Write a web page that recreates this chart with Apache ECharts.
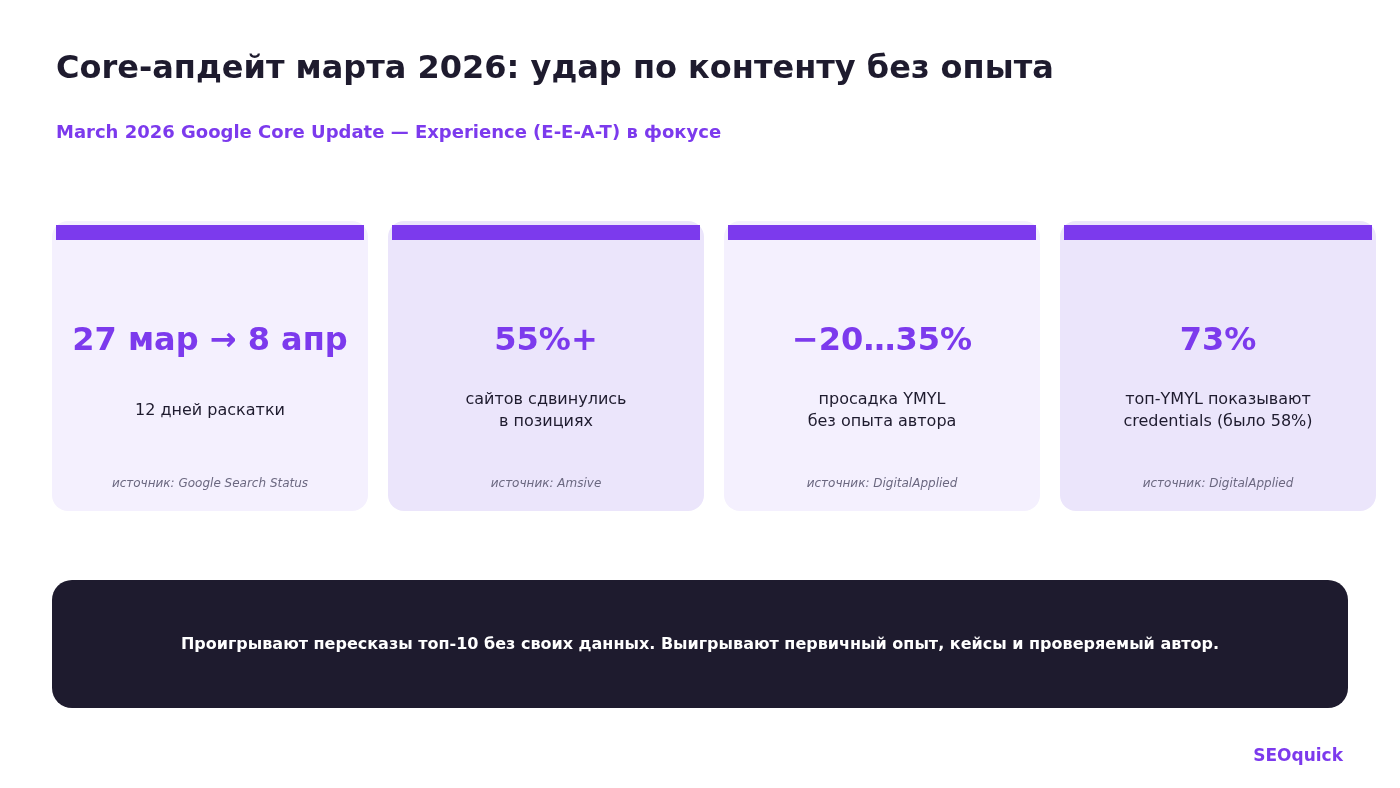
<!DOCTYPE html>
<html><head><meta charset="utf-8">
<script src="https://cdn.jsdelivr.net/npm/echarts@6/dist/echarts.min.js"></script>
<style>html,body{margin:0;padding:0;background:#fff}#c{width:1400px;height:788px}</style>
</head><body><div id="c"></div>
<script>
const title = "Core-апдейт марта 2026: удар по контенту без опыта";
const subtitle = "March 2026 Google Core Update — Experience (E-E-A-T) в фокусе";
const values = ["27 мар → 8 апр", "55%+", "−20…35%", "73%"];
const labels = ["12 дней раскатки", "сайтов сдвинулись\nв позициях", "просадка YMYL\nбез опыта автора", "топ-YMYL показывают\ncredentials (было 58%)"];
const sources = ["источник: Google Search Status", "источник: Amsive", "источник: DigitalApplied", "источник: DigitalApplied"];
const banner = "Проигрывают пересказы топ-10 без своих данных. Выигрывают первичный опыт, кейсы и проверяемый автор.";
const brand = "SEOquick";

const F = "'DejaVu Sans', sans-serif";
const P = "#7C3AED", D = "#1E1B2E";
const els = [
  {type:'text', x:56, y:70, style:{text:title, font:"bold 32px "+F, fill:D, verticalAlign:'middle'}},
  {type:'text', x:56, y:133, style:{text:subtitle, font:"bold 18px "+F, fill:P, verticalAlign:'middle'}},
];
values.forEach((v,i)=>{
  const x = 52 + i*336, cx = x+158;
  els.push({type:'rect', shape:{x:x,y:221,width:316,height:290,r:16}, style:{fill: i%2? '#EBE5FB':'#F4F0FE'}});
  els.push({type:'rect', shape:{x:x+4,y:225,width:308,height:15}, style:{fill:P}});
  els.push({type:'text', x:cx, y:342, style:{text:v, font:"bold 32px "+F, fill:P, align:'center', verticalAlign:'middle'}});
  els.push({type:'text', x:cx, y:411, style:{text:labels[i], font:"16px "+F, fill:D, align:'center', verticalAlign:'middle', lineHeight:22}});
  els.push({type:'text', x:cx, y:484, style:{text:sources[i], font:"italic 12px "+F, fill:'#6B6880', align:'center', verticalAlign:'middle'}});
});
els.push({type:'rect', shape:{x:52,y:580,width:1296,height:128,r:20}, style:{fill:D}});
els.push({type:'text', x:700, y:645, style:{text:banner, font:"bold 16px "+F, fill:'#fff', align:'center', verticalAlign:'middle'}});
els.push({type:'text', x:1343, y:757, style:{text:brand, font:"bold 17px "+F, fill:P, align:'right', verticalAlign:'middle'}});
const chart = echarts.init(document.getElementById('c'));
chart.setOption({animation:false, graphic:{elements:els}});
</script></body></html>
